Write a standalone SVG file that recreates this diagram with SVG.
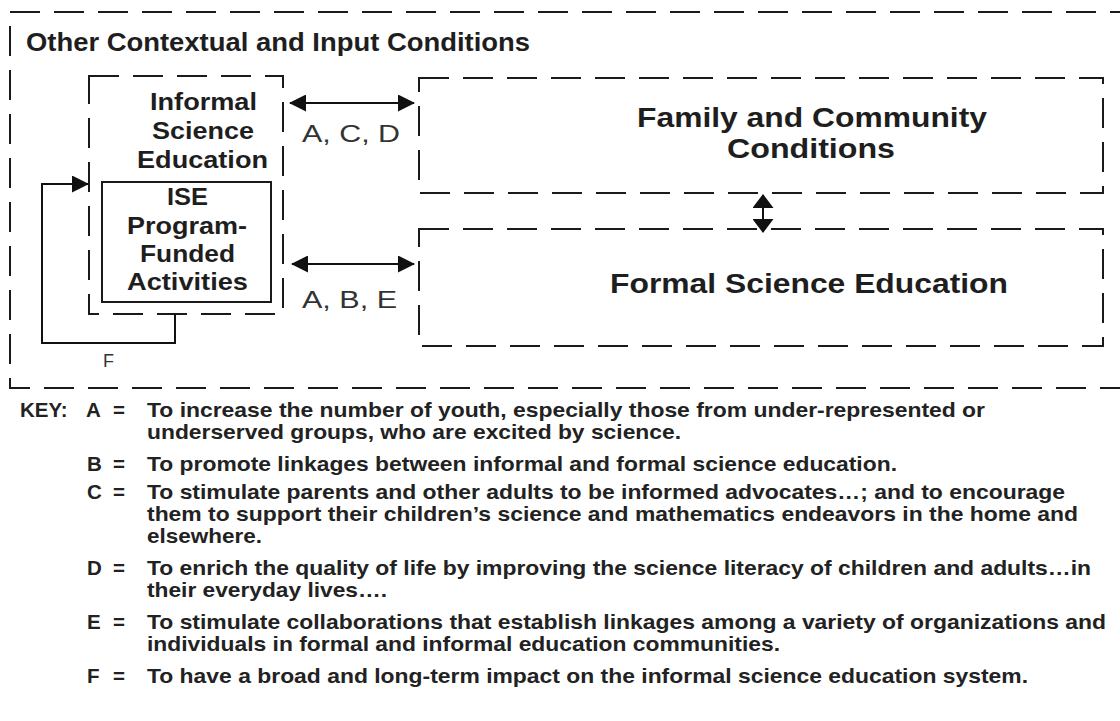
<svg xmlns="http://www.w3.org/2000/svg" width="1120" height="721" viewBox="0 0 1120 721">
<style>
.dash{fill:none;stroke:#1a1a1a;stroke-width:2;stroke-dasharray:30 14}
.solid{fill:none;stroke:#1a1a1a;stroke-width:2}
.b{font-family:"Liberation Sans",Arial,sans-serif;font-weight:bold;fill:#1e1e1e}
.r{font-family:"Liberation Sans",Arial,sans-serif;fill:#333}
.k{font-family:"Liberation Sans",Arial,sans-serif;font-weight:bold;fill:#222;font-size:20.5px}
.line{fill:none;stroke:#111;stroke-width:2}
</style>
<defs>
<marker id="ah" viewBox="0 0 17 17" refX="16" refY="8.5" markerWidth="17" markerHeight="17" markerUnits="userSpaceOnUse" orient="auto-start-reverse">
<path d="M0,0 L17,8.5 L0,17 Z" fill="#111"/>
</marker>
<marker id="ahs" viewBox="0 0 14 21" refX="13" refY="10.5" markerWidth="14" markerHeight="21" markerUnits="userSpaceOnUse" orient="auto-start-reverse">
<path d="M0,0 L14,10.5 L0,21 Z" fill="#111"/>
</marker>
</defs>
<rect width="1120" height="721" fill="#fff"/>

<g id="outer">
<rect class="dash" x="10" y="12" width="1120" height="376"/>
<text class="b" x="26" y="51" font-size="25" textLength="504" lengthAdjust="spacingAndGlyphs">Other Contextual and Input Conditions</text>
</g>

<g id="informal">
<rect class="dash" x="89" y="76" width="194" height="238"/>
<text class="b" font-size="24" x="150" y="110" textLength="107" lengthAdjust="spacingAndGlyphs">Informal</text>
<text class="b" font-size="24" x="152" y="139" textLength="102" lengthAdjust="spacingAndGlyphs">Science</text>
<text class="b" font-size="24" x="137" y="168" textLength="131" lengthAdjust="spacingAndGlyphs">Education</text>
</g>

<g id="ise">
<rect class="solid" x="102" y="182" width="169" height="120"/>
<text class="b" font-size="24" x="167" y="205" textLength="41" lengthAdjust="spacingAndGlyphs">ISE</text>
<text class="b" font-size="24" x="127" y="234" textLength="120" lengthAdjust="spacingAndGlyphs">Program-</text>
<text class="b" font-size="24" x="140" y="262" textLength="95" lengthAdjust="spacingAndGlyphs">Funded</text>
<text class="b" font-size="24" x="127" y="290" textLength="121" lengthAdjust="spacingAndGlyphs">Activities</text>
</g>

<g id="family">
<rect class="dash" x="419" y="78" width="684" height="115"/>
<text class="b" font-size="28" x="637" y="127" textLength="350" lengthAdjust="spacingAndGlyphs">Family and Community</text>
<text class="b" font-size="28" x="727" y="158" textLength="168" lengthAdjust="spacingAndGlyphs">Conditions</text>
</g>

<g id="formal">
<rect class="dash" x="419" y="229" width="684" height="117"/>
<text class="b" font-size="28" x="610" y="293" textLength="398" lengthAdjust="spacingAndGlyphs">Formal Science Education</text>
</g>

<g id="connectors">
<line class="line" x1="290" y1="103" x2="414" y2="103" marker-start="url(#ah)" marker-end="url(#ah)"/>
<line class="line" x1="292" y1="264" x2="414" y2="264" marker-start="url(#ah)" marker-end="url(#ah)"/>
<line class="line" x1="763" y1="195" x2="763" y2="232" marker-start="url(#ahs)" marker-end="url(#ahs)"/>
<polyline class="line" points="175,314 175,343 42,343 42,184 88,184" marker-end="url(#ah)"/>
<text class="r" font-size="24" x="302" y="142" textLength="98" lengthAdjust="spacingAndGlyphs">A, C, D</text>
<text class="r" font-size="24" x="302" y="308" textLength="95" lengthAdjust="spacingAndGlyphs">A, B, E</text>
<text class="r" font-size="18" x="103" y="367" fill="#555">F</text>
</g>

<g id="key">
<text class="k" x="20" y="417">KEY:</text>
<text class="k" x="86" y="417">A</text><text class="k" x="113" y="417">=</text>
<text class="k" x="147" y="417" textLength="838" lengthAdjust="spacingAndGlyphs">To increase the number of youth, especially those from under-represented or</text>
<text class="k" x="147" y="439" textLength="534" lengthAdjust="spacingAndGlyphs">underserved groups, who are excited by science.</text>
<text class="k" x="87" y="471">B</text><text class="k" x="113" y="471">=</text>
<text class="k" x="147" y="471" textLength="750" lengthAdjust="spacingAndGlyphs">To promote linkages between informal and formal science education.</text>
<text class="k" x="87" y="499">C</text><text class="k" x="113" y="499">=</text>
<text class="k" x="147" y="499" textLength="918" lengthAdjust="spacingAndGlyphs">To stimulate parents and other adults to be informed advocates…; and to encourage</text>
<text class="k" x="147" y="521" textLength="931" lengthAdjust="spacingAndGlyphs">them to support their children’s science and mathematics endeavors in the home and</text>
<text class="k" x="147" y="543" textLength="115" lengthAdjust="spacingAndGlyphs">elsewhere.</text>
<text class="k" x="87" y="575">D</text><text class="k" x="113" y="575">=</text>
<text class="k" x="147" y="575" textLength="944" lengthAdjust="spacingAndGlyphs">To enrich the quality of life by improving the science literacy of children and adults…in</text>
<text class="k" x="147" y="597" textLength="240" lengthAdjust="spacingAndGlyphs">their everyday lives….</text>
<text class="k" x="87" y="629">E</text><text class="k" x="113" y="629">=</text>
<text class="k" x="147" y="629" textLength="959" lengthAdjust="spacingAndGlyphs">To stimulate collaborations that establish linkages among a variety of organizations and</text>
<text class="k" x="147" y="651" textLength="633" lengthAdjust="spacingAndGlyphs">individuals in formal and informal education communities.</text>
<text class="k" x="87" y="683">F</text><text class="k" x="113" y="683">=</text>
<text class="k" x="147" y="683" textLength="881" lengthAdjust="spacingAndGlyphs">To have a broad and long-term impact on the informal science education system.</text>
</g>
</svg>
